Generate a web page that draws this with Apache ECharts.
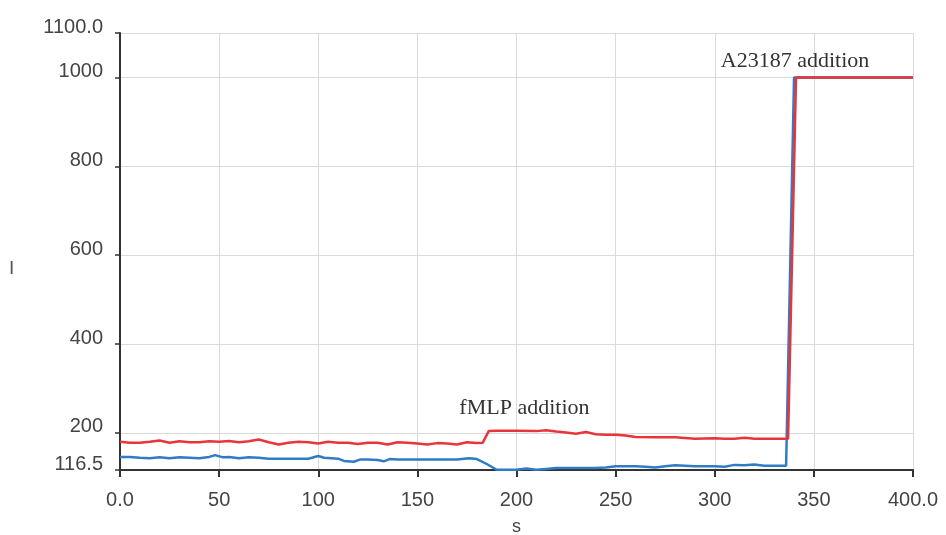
<!DOCTYPE html>
<html>
<head>
<meta charset="utf-8">
<script src="https://cdn.jsdelivr.net/npm/echarts@6/dist/echarts.min.js"></script>
<style>
  html, body { margin: 0; padding: 0; background: #fff; }
  #chart { width: 946px; height: 535px; }
</style>
</head>
<body>
<div id="chart"></div>
<script>
// time in s
const redTime = [0, 5, 10, 15, 20, 25, 30, 35, 40, 45, 50, 55, 60, 65, 70, 75, 80, 85, 90, 95,
  100, 105, 110, 115, 120, 125, 130, 135, 140, 145, 150, 155, 160, 165, 170, 175, 180, 183,
  186, 190, 200, 210, 215, 220, 225, 230, 235, 240, 245, 250, 255, 260, 270, 280, 290, 300,
  305, 310, 315, 320, 330, 337, 341, 400];
const redVals = [180, 178, 178, 180, 183, 178, 181, 179, 179, 181, 180, 182, 179, 181, 185, 179,
  174, 178, 180, 179, 176, 180, 178, 178, 175, 178, 178, 174, 179, 178, 176, 174, 177, 176,
  174, 179, 177, 178, 204, 205, 205, 204, 206, 203, 201, 198, 202, 197, 196, 196, 194, 191,
  190, 190, 187, 188, 187, 187, 189, 187, 187, 187, 1000, 1000];

const blueTime = [0, 5, 10, 15, 20, 25, 30, 35, 40, 45, 48, 52, 55, 60, 65, 70, 75, 80, 90, 95,
  100, 103, 110, 113, 118, 121, 125, 130, 133, 136, 140, 150, 160, 170, 176, 180, 185, 190,
  200, 205, 210, 215, 220, 230, 240, 245, 250, 260, 265, 270, 275, 280, 285, 290, 300, 305,
  310, 315, 320, 325, 330, 336, 340, 400];
const blueVals = [146, 146, 144, 143, 145, 143, 145, 144, 143, 146, 150, 145, 146, 143, 145, 144,
  142, 142, 142, 142, 148, 144, 142, 137, 135, 140, 140, 139, 136, 141, 140, 140, 140, 140,
  143, 141, 130, 117, 117, 120, 117, 119, 121, 121, 121, 122, 125, 125, 124, 122, 125, 127,
  126, 125, 125, 124, 128, 127, 129, 126, 126, 126, 1000, 1000];

const yTicks = [116.5, 200, 400, 600, 800, 1000, 1100];

const notes = [
  { text: 'fMLP addition', x: 204, y: 256 },
  { text: 'A23187 addition', x: 340.5, y: 1036 }
];

const toPairs = (xs, ys) => xs.map((x, i) => [x, ys[i]]);

let chart = echarts.init(document.getElementById('chart'));

let option = {
  animation: false,
  backgroundColor: '#ffffff',
  grid: { left: 120, right: 33, top: 33, bottom: 65, outerBoundsMode: 'none' },
  graphic: [
    {
      type: 'text', left: 9, top: 259,
      style: { text: 'I', fill: '#555', fontSize: 19, fontFamily: 'Liberation Sans' }
    }
  ],
  xAxis: {
    type: 'value',
    min: 0,
    max: 400,
    interval: 50,
    name: 's',
    nameLocation: 'middle',
    nameGap: 48,
    nameTextStyle: { color: '#444', fontSize: 18, fontFamily: 'Liberation Sans' },
    axisLine: { lineStyle: { color: '#333', width: 2 } },
    axisTick: { length: 7, lineStyle: { color: '#333', width: 2 } },
    axisLabel: {
      color: '#444', fontSize: 20, fontFamily: 'Liberation Sans', margin: 20,
      formatter: v => (v === 0 || v === 400) ? v.toFixed(1) : String(v)
    },
    splitLine: { show: true, lineStyle: { color: '#dadada', width: 1 } }
  },
  yAxis: {
    type: 'value',
    min: 116.5,
    max: 1100,
    axisLine: { show: true, lineStyle: { color: '#333', width: 2 } },
    axisTick: { show: true, length: 5, customValues: yTicks, lineStyle: { color: '#333', width: 1.5 } },
    axisLabel: {
      customValues: yTicks,
      color: '#444', fontSize: 20, fontFamily: 'Liberation Sans', margin: 17,
      verticalAlign: 'bottom', lineHeight: 12,
      formatter: v => (v === 1100) ? '1100.0' : String(v)
    },
    splitLine: { show: true, lineStyle: { color: '#dadada', width: 1 } }
  },
  series: [
    {
      name: 'blue',
      type: 'line',
      data: toPairs(blueTime, blueVals),
      symbol: 'none',
      lineStyle: { color: '#2f7cc4', width: 2.5 },
      z: 2
    },
    {
      name: 'red',
      type: 'line',
      data: toPairs(redTime, redVals),
      symbol: 'none',
      lineStyle: { color: '#e8353b', width: 2.5 },
      z: 3,
      markPoint: {
        symbol: 'circle',
        symbolSize: 0,
        silent: true,
        label: {
          show: true,
          position: 'inside',
          color: '#333',
          fontSize: 22,
          fontFamily: 'Liberation Serif',
          formatter: p => p.name
        },
        data: notes.map(n => ({ name: n.text, coord: [n.x, n.y] }))
      }
    }
  ]
};

chart.setOption(option);
</script>
</body>
</html>
